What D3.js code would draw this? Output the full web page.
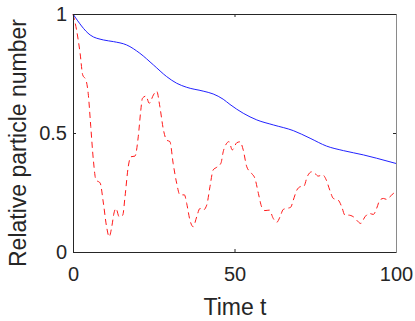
<!DOCTYPE html>
<html><head><meta charset="utf-8">
<script src="https://cdn.jsdelivr.net/npm/d3@7"></script>
<style>html,body{margin:0;padding:0;background:#fff;}svg{display:block;}</style>
</head><body>
<script>
const xTicks = [0, 50, 100];
const yTicks = [0, 0.5, 1];
const xLabel = "Time t";
const yLabel = "Relative particle number";

const blueT = [0,5.3,9.4,12.5,16.6,20.7,24.9,29,32.1,35.2,40.3,43.4,46.5,48.6,52.7,56.9,62,68.2,73.4,78.5,83.7,89.9,94,100];
const blueV = [1,0.912,0.891,0.884,0.870,0.835,0.786,0.737,0.709,0.692,0.676,0.664,0.642,0.62,0.583,0.555,0.534,0.510,0.478,0.445,0.426,0.408,0.394,0.372];

const redT = [0,1.1,2.2,3,4,4.7,5.5,6.3,7.1,8.4,9.4,10.4,11.2,12,12.7,13.3,14.3,15.4,16.1,17.1,17.9,19.2,20.2,21,21.5,22.6,23.6,24.9,25.9,26.9,28,29,30,31,32.1,33.1,34.5,35.2,36.2,37.2,38.3,39.3,40.3,41.4,42.4,43.4,44.5,45.8,46.5,47.6,48.3,49.3,50.7,51.7,52.7,53.8,55.3,56.3,57.4,58.4,59.4,60.8,62,63.1,64.1,65.1,66.1,67.4,68.2,69.3,70.3,71.5,72.5,73.9,74.9,75.9,77.3,78.4,79.5,80.6,82.1,83.2,84.2,85.2,86.8,87.8,89.1,90.4,91.7,93,94,95,96.1,97.1,98.1,99.2,100];
const redV = [1,0.933,0.835,0.744,0.723,0.667,0.527,0.387,0.303,0.29,0.206,0.106,0.064,0.106,0.164,0.183,0.148,0.155,0.232,0.358,0.40,0.403,0.484,0.597,0.646,0.655,0.625,0.66,0.676,0.61,0.513,0.47,0.464,0.373,0.289,0.24,0.24,0.204,0.134,0.106,0.148,0.183,0.176,0.197,0.274,0.345,0.356,0.373,0.421,0.457,0.464,0.429,0.459,0.463,0.429,0.358,0.33,0.31,0.246,0.19,0.174,0.176,0.141,0.125,0.148,0.179,0.183,0.188,0.218,0.26,0.274,0.277,0.316,0.337,0.33,0.319,0.324,0.303,0.26,0.225,0.218,0.19,0.155,0.155,0.148,0.134,0.12,0.148,0.162,0.158,0.183,0.218,0.225,0.221,0.232,0.246,0.252];

const W = 415, H = 321;
const m = {left: 73, top: 14, right: 396, bottom: 252};
const svg = d3.select("body").append("svg").attr("width", W).attr("height", H);
const x = d3.scaleLinear().domain([0, 100]).range([m.left, m.right]);
const y = d3.scaleLinear().domain([0, 1]).range([m.bottom, m.top]);
const axisColor = "#262626";
const font = "Liberation Sans, Arial, Helvetica, sans-serif";

const blue = blueT.map((t, i) => [t, blueV[i]]);
const red = redT.map((t, i) => [t, redV[i]]);
const line = d3.line().x(d => x(d[0])).y(d => y(d[1])).curve(d3.curveMonotoneX);

svg.append("path").attr("d", line(red)).attr("fill", "none").attr("stroke", "#ff1a1a")
  .attr("stroke-width", 1).attr("stroke-dasharray", "6,4");
svg.append("path").attr("d", line(blue)).attr("fill", "none").attr("stroke", "#2222ff")
  .attr("stroke-width", 1);

// axes
const gx = svg.append("g").attr("transform", `translate(0,${m.bottom})`)
  .call(d3.axisBottom(x).tickValues(xTicks).tickSize(-3).tickPadding(15).tickFormat(d3.format("d")));
const gy = svg.append("g").attr("transform", `translate(${m.left},0)`)
  .call(d3.axisLeft(y).tickValues(yTicks).tickSize(-3).tickPadding(6).tickFormat(d => d === 0.5 ? "0.5" : d3.format("d")(d)));
const gxt = svg.append("g").attr("transform", `translate(0,${m.top})`)
  .call(d3.axisTop(x).tickValues(xTicks).tickSize(-3).tickFormat(""));
const gyr = svg.append("g").attr("transform", `translate(${m.right},0)`)
  .call(d3.axisRight(y).tickValues(yTicks).tickSize(-3).tickFormat(""));
[gx, gy, gxt, gyr].forEach(g => {
  g.selectAll("path").attr("stroke", axisColor).attr("stroke-width", 1);
  g.selectAll("line").attr("stroke", axisColor);
  g.selectAll("text").attr("fill", axisColor).style("font-family", font).style("font-size", "20px");
});
gyr.select("path").attr("stroke", "#8a8a8a");
gx.selectAll("text").attr("dy", "0.71em");

svg.append("text").attr("x", (m.left + m.right) / 2 + 0.5).attr("y", 315)
  .attr("text-anchor", "middle").attr("fill", axisColor)
  .style("font-family", font).style("font-size", "23px").text(xLabel);
svg.append("text").attr("transform", `translate(26,${(m.top + m.bottom) / 2 + 10}) rotate(-90)`)
  .attr("text-anchor", "middle").attr("fill", axisColor)
  .style("font-family", font).style("font-size", "23px").text(yLabel);
</script>
</body></html>
